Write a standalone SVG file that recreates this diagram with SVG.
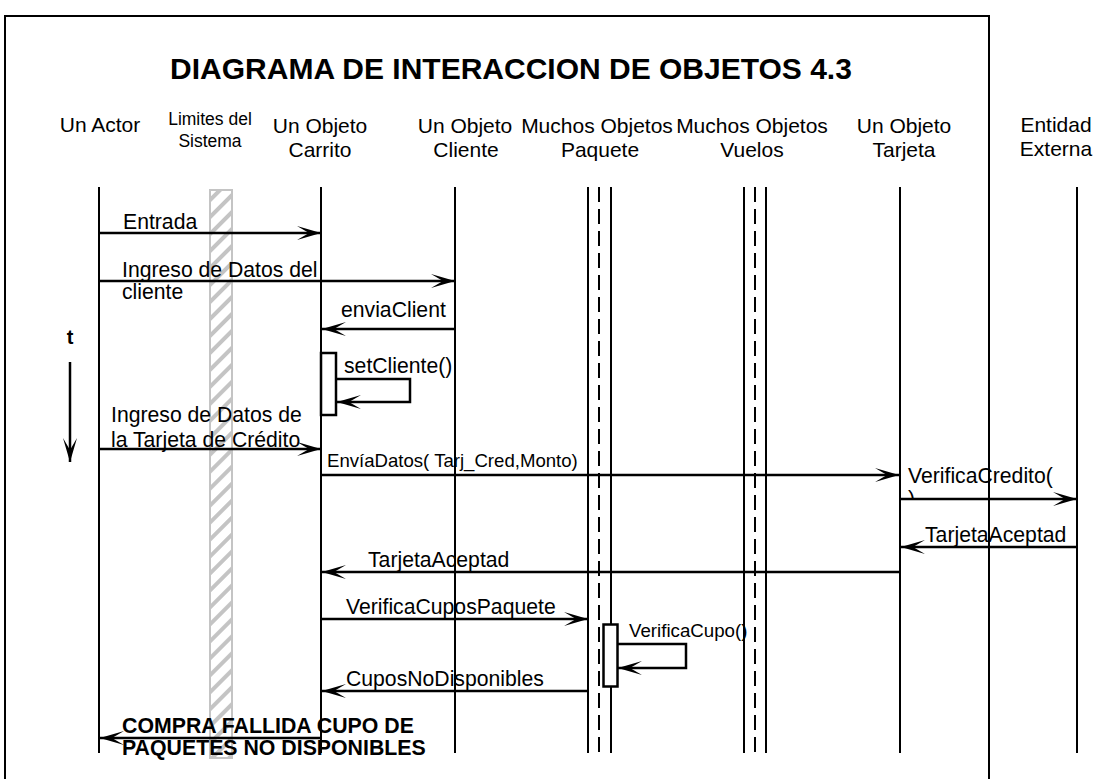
<svg xmlns="http://www.w3.org/2000/svg" width="1094" height="779" viewBox="0 0 1094 779">
<style>
.t{font-family:"Liberation Sans",Arial,sans-serif;fill:#000}
.h{font-size:21px;text-anchor:middle}
.m{font-size:21.2px}
.b{font-weight:bold}
.ll{stroke:#000;stroke-width:2;fill:none}
.dash{stroke:#000;stroke-width:2;stroke-dasharray:15 7;fill:none}
.msg{stroke:#000;stroke-width:2.5;fill:none;marker-end:url(#ah)}
.act{fill:#fff;stroke:#000;stroke-width:2.5}
</style>
<defs>
<marker id="ah" markerUnits="userSpaceOnUse" markerWidth="26" markerHeight="16" refX="24" refY="7" orient="auto" overflow="visible">
<path d="M0,0 L24,7 L0,14 L12,7 Z" fill="#000"/>
</marker>
<pattern id="hatch" patternUnits="userSpaceOnUse" width="12" height="12" patternTransform="rotate(45)">
<rect width="4" height="12" fill="#c4c4c4"/>
</pattern>
<clipPath id="clipParen"><rect x="900" y="486" width="30" height="12.5"/></clipPath>
</defs>
<rect width="1094" height="779" fill="#fff"/>
<path d="M5,779 V16 H989 V779" fill="none" stroke="#000" stroke-width="2"/>
<text class="t b" x="511" y="79" font-size="30" text-anchor="middle">DIAGRAMA DE INTERACCION DE OBJETOS 4.3</text>

<g id="actor">
<text class="t h" x="100" y="132">Un Actor</text>
<path class="ll" d="M99,187 V753"/>
</g>
<g id="limites">
<text class="t" font-size="17.5" text-anchor="middle" x="210" y="125">Limites del</text>
<text class="t" font-size="17.5" text-anchor="middle" x="210" y="147">Sistema</text>
<rect x="210" y="190" width="22" height="568" fill="#fff" stroke="#c4c4c4" stroke-width="2"/>
<rect x="210" y="190" width="22" height="568" fill="url(#hatch)"/>
</g>
<g id="carrito">
<text class="t h" x="320" y="133">Un Objeto</text>
<text class="t h" x="320" y="157">Carrito</text>
<path class="ll" d="M321,187 V753"/>
<rect class="act" x="321" y="353" width="15" height="62"/>
</g>
<g id="cliente">
<text class="t h" x="465" y="133">Un Objeto</text>
<text class="t h" x="466" y="157">Cliente</text>
<path class="ll" d="M455,187 V753"/>
</g>
<g id="paquete">
<text class="t h" x="597" y="133">Muchos Objetos</text>
<text class="t h" x="600" y="157">Paquete</text>
<path class="ll" d="M588,187 V753 M611,187 V753"/>
<path class="dash" d="M599,187 V753"/>
<rect class="act" x="603.5" y="624.5" width="14" height="62"/>
</g>
<g id="vuelos">
<text class="t h" x="752" y="133">Muchos Objetos</text>
<text class="t h" x="752" y="157">Vuelos</text>
<path class="ll" d="M744,187 V753 M766,187 V753"/>
<path class="dash" d="M755,187 V753"/>
</g>
<g id="tarjeta">
<text class="t h" x="904" y="133">Un Objeto</text>
<text class="t h" x="904" y="157">Tarjeta</text>
<path class="ll" d="M900,187 V753"/>
</g>
<g id="externa">
<text class="t h" x="1056" y="132">Entidad</text>
<text class="t h" x="1056" y="156">Externa</text>
<path class="ll" d="M1077,187 V753"/>
</g>

<g id="connectors">
<path class="msg" d="M99,233 H321"/>
<path class="msg" d="M99,281 H455"/>
<path class="msg" d="M455,329 H322"/>
<path class="msg" d="M336,379 H410 V402 H337"/>
<path class="msg" d="M99,449 H321"/>
<path class="msg" d="M321,475 H899"/>
<path class="msg" d="M900,499 H1077"/>
<path class="msg" d="M1077,547 H901"/>
<path class="msg" d="M900,572 H322"/>
<path class="msg" d="M321,619 H588"/>
<path class="msg" d="M617,644 H686 V668 H618"/>
<path class="msg" d="M588,691 H322"/>
<path class="msg" d="M321,738 H100"/>
<path class="msg" d="M70,362 V462"/>
</g>

<g id="labels">
<text class="t m" x="123" y="229">Entrada</text>
<text class="t m" x="122" y="277">Ingreso de Datos del</text>
<text class="t m" x="122" y="299">cliente</text>
<text class="t m" x="341" y="317">enviaClient</text>
<text class="t b" font-size="20" x="70" y="344" text-anchor="middle">t</text>
<text class="t m" x="344" y="373">setCliente()</text>
<text class="t m" x="111" y="422">Ingreso de Datos de</text>
<text class="t m" x="111" y="447">la Tarjeta de Crédito</text>
<text class="t" font-size="18.6" x="327" y="467">EnvíaDatos( Tarj_Cred,Monto)</text>
<text class="t m" x="908" y="483">VerificaCredito(</text>
<text class="t m" x="908" y="506" clip-path="url(#clipParen)">)</text>
<text class="t m" x="925" y="542">TarjetaAceptad</text>
<text class="t m" x="368" y="567">TarjetaAceptad</text>
<text class="t m" x="346" y="614">VerificaCuposPaquete</text>
<text class="t" font-size="18.7" x="629" y="637">VerificaCupo()</text>
<text class="t m" x="346" y="686">CuposNoDisponibles</text>
<text class="t b" font-size="21.3" x="122" y="733">COMPRA FALLIDA CUPO DE</text>
<text class="t b" font-size="21.3" x="122" y="755">PAQUETES NO DISPONIBLES</text>
</g>
</svg>
